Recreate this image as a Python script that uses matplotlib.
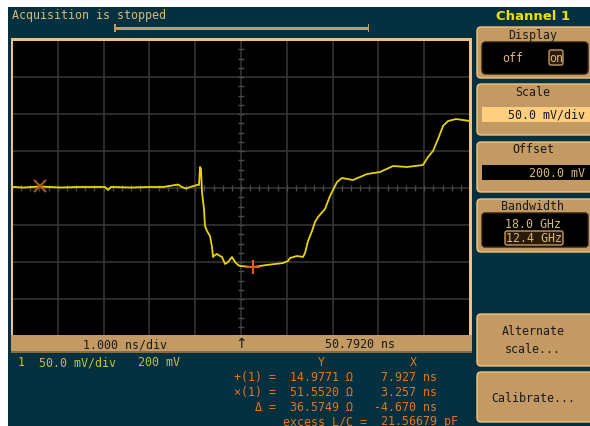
import matplotlib
matplotlib.use("Agg")
import matplotlib.pyplot as plt
from matplotlib.patches import Rectangle, FancyBboxPatch
import numpy as np

# ===============================
# DATA (time in ns, level in mV)
# ===============================
t_ns = [45.792, 46.05, 46.40, 46.84, 47.30, 47.82, 47.89, 47.95, 48.40, 48.81,
        49.10, 49.29, 49.42, 49.50, 49.59, 49.72, 49.83, 49.875, 49.897, 49.919,
        49.94, 49.984, 50.006, 50.05, 50.115, 50.159, 50.181, 50.224, 50.268, 50.333,
        50.377, 50.443, 50.508, 50.595, 50.661, 50.726, 50.77, 51.054, 51.36, 51.709,
        51.818, 51.862, 52.015, 52.146, 52.19, 52.255, 52.343, 52.408, 52.473, 52.626,
        52.735, 52.888, 52.997, 53.237, 53.543, 53.827, 54.111, 54.416, 54.766, 54.875,
        54.984, 55.094, 55.203, 55.312, 55.487, 55.792]
level_mv = [201.4, 200.7, 202.0, 200.7, 201.4, 201.4, 197.3, 201.4, 200.7, 201.4,
            201.4, 203.4, 204.7, 201.4, 199.3, 202.0, 204.1, 204.1, 228.4, 225.7,
            194.6, 171.6, 148.6, 141.9, 135.1, 120.3, 106.8, 109.5, 110.8, 108.1,
            106.8, 97.3, 100.0, 106.8, 100.0, 96.0, 94.6, 93.2, 96.0, 98.6,
            101.4, 105.4, 108.1, 106.8, 112.2, 128.4, 141.9, 154.1, 160.8, 171.6,
            189.2, 208.1, 213.5, 210.8, 218.9, 221.6, 229.7, 228.4, 231.1, 241.9,
            250.0, 266.2, 283.8, 290.5, 293.2, 290.5]

cursor_x = (46.40, 202.7)
cursor_plus = (51.05, 93.2)

t_center = 50.792
ns_per_div = 1.0
mv_per_div = 50.0
offset_mv = 200.0

readout_rows = [("+(1) =", "14.9771 Ω", "7.927 ns"),
                ("×(1) =", "51.5520 Ω", "3.257 ns"),
                ("Δ =", "36.5749 Ω", "-4.670 ns")]

# ===============================
# COLOURS
# ===============================
teal = "#04303F"
tan = "#C49A64"
tan_lt = "#F2C27C"
tan_txt = "#D8B87A"
yel = "#F0E000"
orange = "#E8761A"
trace_col = "#E8D400"
grid_col = "#333333"
mono = "DejaVu Sans Mono"

W, H = 590, 427
fig = plt.figure(figsize=(W / 100, H / 100), dpi=100)
fig.patch.set_facecolor(teal)

def fx(px):
    return px / W

def fy(py):
    return 1 - py / H

# scope screen: pixel box x 12..470, y 41..337
sx0, sx1, sy0, sy1 = 12, 470, 41, 337
ax = fig.add_axes([fx(sx0), fy(sy1), fx(sx1 - sx0), (sy1 - sy0) / H])
ax.set_facecolor("black")
xmin = t_center - 5 * ns_per_div
xmax = t_center + 5 * ns_per_div
ymin = offset_mv - 4 * mv_per_div
ymax = offset_mv + 4 * mv_per_div
ax.set_xlim(xmin, xmax)
ax.set_ylim(ymin, ymax)
for s in ax.spines.values():
    s.set_visible(False)
ax.set_xticks([])
ax.set_yticks([])

for k in range(1, 10):
    ax.axvline(xmin + k * ns_per_div, color=grid_col, lw=1.2, zorder=1)
for k in range(1, 8):
    ax.axhline(ymin + k * mv_per_div, color=grid_col, lw=1.2, zorder=1)

# centre line ticks
xt = np.arange(xmin, xmax + 1e-6, ns_per_div / 5)
ax.plot(xt, np.full_like(xt, offset_mv), "|", ms=4, color="#4A4A4A", mew=1, zorder=1)
yt = np.arange(ymin, ymax + 1e-6, mv_per_div / 4)
ax.plot(np.full_like(yt, t_center), yt, "_", ms=4, color="#4A4A4A", mew=1, zorder=1)

ax.plot(t_ns, level_mv, color=trace_col, lw=1.3, zorder=3)
ax.plot(*cursor_x, marker="x", ms=8, mew=1.5, color="#A85A1C", zorder=4)
ax.plot(*cursor_plus, marker="+", ms=10, mew=1.5, color="#E85A1A", zorder=4)

# ===============================
# OVERLAY (pixel coords)
# ===============================
ov = fig.add_axes([0, 0, 1, 1])
ov.set_xlim(0, W)
ov.set_ylim(H, 0)
ov.axis("off")
ov.patch.set_alpha(0)

def rect(x, y, w, h, color, z=2):
    ov.add_patch(Rectangle((x, y), w, h, color=color, lw=0, zorder=z))

def rbox(x, y, w, h, fc, ec=None, r=4, lw=1.0, z=2):
    ov.add_patch(FancyBboxPatch((x + r, y + r), w - 2 * r, h - 2 * r,
                                boxstyle=f"round,pad={r}", fc=fc,
                                ec=ec if ec else fc, lw=lw, zorder=z))

def txt(x, y, s, color, size=8.4, ha="left", **kw):
    ov.text(x, y, s, color=color, fontsize=size, ha=ha, va="center",
            family=mono, zorder=5, **kw)

# white margins
rect(0, 0, W, 8, "white", z=6)
rect(0, 0, 8, H, "white", z=6)

# screen frame
rect(11, 39, 461, 3, tan_lt)
rect(11, 39, 2, 300, tan_lt)
rect(469, 39, 3, 300, tan_lt)
rect(11, 336, 461, 17, tan)
rect(11, 352, 461, 1.5, "#8A6A40")

txt(125, 345, "1.000 ns/div", "#1A1A1A", ha="center")
ov.text(241, 344, "↑", color="#1A1A1A", fontsize=10, ha="center", va="center",
        family="DejaVu Sans", zorder=5)
txt(360, 345, "50.7920 ns", "#1A1A1A", ha="center")

# top status
txt(12, 16, "Acquisition is stopped", tan_txt)
rect(114, 27.5, 255, 3, tan)
rect(114, 25, 1.5, 8, tan)
rect(367.5, 25, 1.5, 8, tan)

# right panel
ov.text(533, 17, "Channel 1", color=yel, fontsize=9.5, ha="center", va="center",
        family="DejaVu Sans", weight="bold", zorder=5)

# Display box
rbox(477, 28, 120, 51, tan, ec=tan_lt)
txt(533, 36, "Display", "#1A1A1A", ha="center")
rbox(482, 43, 106, 32, "black", ec="#2A2010")
txt(513, 59, "off", tan_txt, ha="center")
rbox(549, 51, 14, 15, "#2A1A08", ec=tan, r=2)
txt(556, 58.5, "on", tan_txt, ha="center")

# Scale box
rbox(477, 85, 120, 51, tan, ec=tan_lt)
txt(533, 93, "Scale", "#1A1A1A", ha="center")
rect(482, 108, 110, 15, "#FFCF80", z=3)
txt(585, 115.5, "50.0 mV/div", "#1A1A1A", ha="right")

# Offset box
rbox(477, 143, 120, 50, tan, ec=tan_lt)
txt(533, 150, "Offset", "#1A1A1A", ha="center")
rect(482, 166, 110, 15, "black", z=3)
txt(585, 173.5, "200.0 mV", tan_txt, ha="right")

# Bandwidth box
rbox(477, 200, 120, 53, tan, ec=tan_lt)
txt(533, 207, "Bandwidth", "#1A1A1A", ha="center")
rbox(482, 214, 106, 34, "black", ec="#2A2010", r=3)
txt(533, 225, "18.0 GHz", tan_txt, ha="center")
rbox(505, 232, 58, 14, "#2A1A08", ec=tan, r=2)
txt(534, 239, "12.4 GHz", tan_txt, ha="center")

# Alternate / Calibrate
rbox(477, 315, 120, 52, tan, ec=tan_lt)
txt(533, 332, "Alternate", "#1A1A1A", ha="center")
txt(533, 350, "scale...", "#1A1A1A", ha="center")
rbox(477, 373, 120, 50, tan, ec=tan_lt)
txt(533, 399, "Calibrate...", "#1A1A1A", ha="center")

# channel info
txt(18, 363, "1", "#C8C038")
txt(39, 363, "50.0 mV/div", "#C8C038")
txt(138, 363, "200 mV", "#C8C038")

# readouts
txt(321, 363, "Y", orange, ha="center")
txt(413, 363, "X", orange, ha="center")
for i, (lab, yv, xv) in enumerate(readout_rows):
    yy = 378 + 15 * i
    txt(276, yy, lab, orange, ha="right")
    txt(290, yy, yv, orange)
    txt(437, yy, xv, orange, ha="right")
txt(283, 422, "excess L/C =", orange)
txt(458, 422, "21.56679 pF", orange, ha="right")

fig.savefig("out.png", dpi=100, facecolor=teal)
